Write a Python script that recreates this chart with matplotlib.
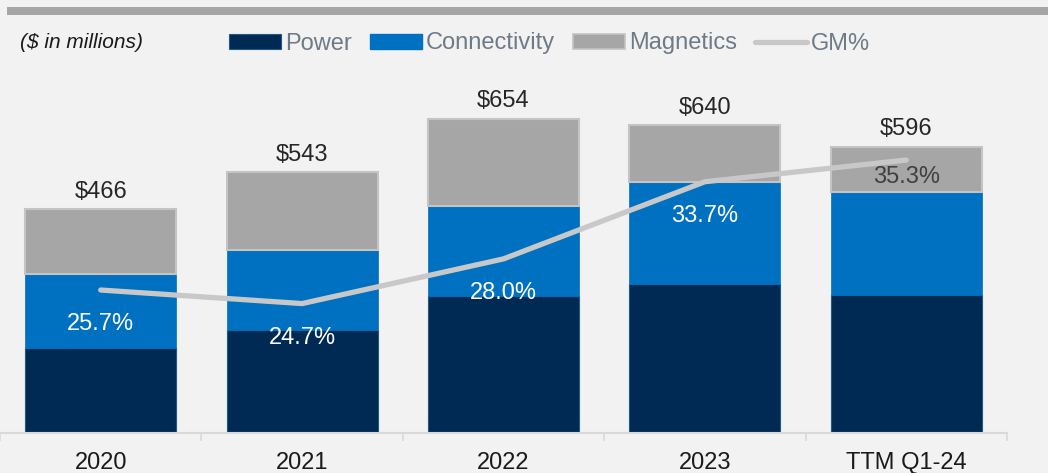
import matplotlib
matplotlib.use("Agg")
import matplotlib.pyplot as plt
from matplotlib.patches import Rectangle, Patch
from matplotlib.lines import Line2D
import numpy as np

categories = ["2020", "2021", "2022", "2023", "TTM Q1-24"]
power = [177, 214, 285, 310, 287]
connectivity = [154, 166, 187, 212, 214]
magnetics = [135, 163, 182, 118, 95]
totals = [466, 543, 654, 640, 596]
gm_pct = [25.7, 24.7, 28.0, 33.7, 35.3]

plt.rcParams['font.family'] = ['Liberation Sans', 'DejaVu Sans']

C_POWER = '#002a54'
C_CONN = '#0070c0'
C_MAG = '#a6a6a6'
C_GM = '#c8c8c8'
BG = '#f2f2f2'

fig = plt.figure(figsize=(10.48, 4.73), dpi=100, facecolor=BG)
W, H = 1048, 473
ax = fig.add_axes([0 / W, (H - 433) / H, 1007 / W, (433 - 60) / H])
ax.set_facecolor('none')

x = np.arange(len(categories))
bw = 0.75
ax.bar(x, power, bw, color=C_POWER, edgecolor='#1f5a80', linewidth=0.8, zorder=2)
ax.bar(x, connectivity, bw, bottom=power, color=C_CONN, edgecolor=C_CONN, linewidth=0.5, zorder=2)
bottom2 = [p + c for p, c in zip(power, connectivity)]
ax.bar(x, magnetics, bw, bottom=bottom2, color=C_MAG, edgecolor='#c4c4c4', linewidth=1.5, zorder=2)

for xi, t in zip(x, totals):
    ax.annotate(f"${t}", (xi, t), xytext=(0, 4.5), textcoords='offset points',
                ha='center', va='bottom', fontsize=17, color='#262626')

ax.set_xlim(-0.5, 4.5)
ax.set_ylim(0, 776)
ax.set_yticks([])
for s in ['top', 'right', 'left']:
    ax.spines[s].set_visible(False)
ax.spines['bottom'].set_color('#d9d9d9')
ax.spines['bottom'].set_linewidth(1.5)
ax.set_xticks(x)
ax.set_xticklabels(categories, fontsize=17, color='#1a1a1a')
ax.tick_params(axis='x', which='major', length=0, pad=14)
ax.set_xticks(np.arange(-0.5, 5.0, 1.0), minor=True)
ax.tick_params(axis='x', which='minor', length=6, color='#d9d9d9', width=1.2)

ax2 = ax.twinx()
ax2.set_ylim(15.14, 42.69)
ax2.set_yticks([])
for s in ax2.spines.values():
    s.set_visible(False)
ax2.plot(x, gm_pct, color=C_GM, linewidth=3.8, solid_capstyle='round', zorder=3)
for i, (xi, g) in enumerate(zip(x, gm_pct)):
    last = i == len(x) - 1
    col = '#404040' if last else 'white'
    dy = -12.5 if last else -24.5
    ax2.annotate(f"{g:.1f}%", (xi, g), xytext=(0, dy), textcoords='offset points',
                 ha='center', va='center', fontsize=17, color=col)

# top rule
fig.add_artist(Rectangle((7 / W, (H - 15) / H), (W - 7) / W, 8 / H,
                         transform=fig.transFigure, color='#a6a6a6', lw=0))

fig.text(20 / W, (H - 42) / H, "($ in millions)", fontsize=15, style='italic',
         color='#1a1a1a', va='center', ha='left')

handles = [Patch(facecolor=C_POWER, edgecolor='#1f5a80', lw=0.8),
           Patch(facecolor=C_CONN, edgecolor=C_CONN),
           Patch(facecolor=C_MAG, edgecolor='#c4c4c4', lw=1.2),
           Line2D([], [], color=C_GM, lw=3.8, solid_capstyle='round')]
leg = fig.legend(handles, ["Power", "Connectivity", "Magnetics", "GM%"],
                 loc='center left', bbox_to_anchor=(229 / W, (H - 43.5) / H),
                 ncol=4, frameon=False, fontsize=17, handlelength=2.2,
                 handleheight=0.6, handletextpad=0.18, columnspacing=0.75,
                 borderpad=0, borderaxespad=0)
for t in leg.get_texts():
    t.set_color('#6f7a87')

fig.savefig('out.png', dpi=100, facecolor=BG)
